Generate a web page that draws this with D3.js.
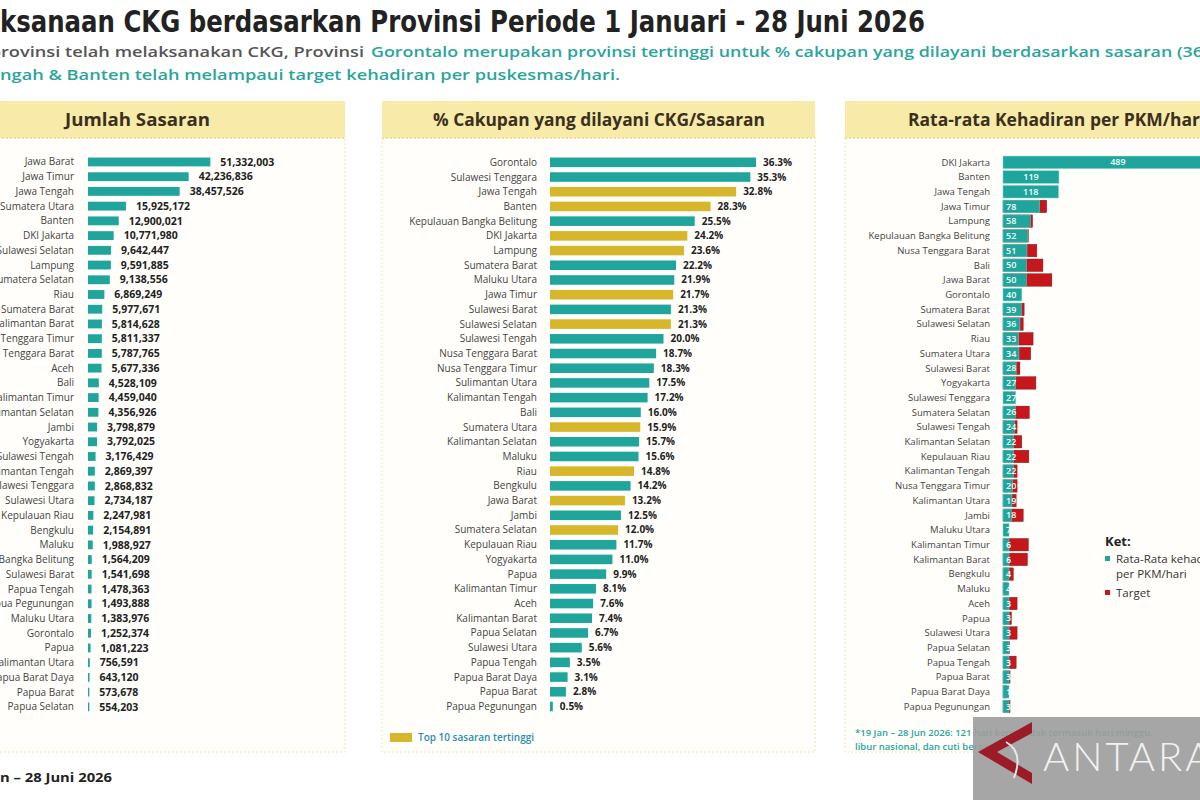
<!DOCTYPE html>
<html><head><meta charset="utf-8">
<script src="https://cdn.jsdelivr.net/npm/d3@7/dist/d3.min.js"></script>
<style>body{margin:0;background:#fff;} svg{display:block;font-family:'Open Sans',sans-serif;}</style>
</head><body><svg id="c" width="1200" height="800"></svg>
<script>
// ---------- DATA ----------
const sasaranProv = ["Jawa Barat","Jawa Timur","Jawa Tengah","Sumatera Utara","Banten","DKI Jakarta","Sulawesi Selatan","Lampung","Sumatera Selatan","Riau","Sumatera Barat","Kalimantan Barat","Nusa Tenggara Timur","Nusa Tenggara Barat","Aceh","Bali","Kalimantan Timur","Kalimantan Selatan","Jambi","Yogyakarta","Sulawesi Tengah","Kalimantan Tengah","Sulawesi Tenggara","Sulawesi Utara","Kepulauan Riau","Bengkulu","Maluku","Kepulauan Bangka Belitung","Sulawesi Barat","Papua Tengah","Papua Pegunungan","Maluku Utara","Gorontalo","Papua","Kalimantan Utara","Papua Barat Daya","Papua Barat","Papua Selatan"];
const sasaranVal = [51332003,42236836,38457526,15925172,12900021,10771980,9642447,9591885,9138556,6869249,5977671,5814628,5811337,5787765,5677336,4528109,4459040,4356926,3798879,3792025,3176429,2869397,2868832,2734187,2247981,2154891,1988927,1564209,1541698,1478363,1493888,1383976,1252374,1081223,756591,643120,573678,554203];

const cakupanProv = ["Gorontalo","Sulawesi Tenggara","Jawa Tengah","Banten","Kepulauan Bangka Belitung","DKI Jakarta","Lampung","Sumatera Barat","Maluku Utara","Jawa Timur","Sulawesi Barat","Sulawesi Selatan","Sulawesi Tengah","Nusa Tenggara Barat","Nusa Tenggara Timur","Sulimantan Utara","Kalimantan Tengah","Bali","Sumatera Utara","Kalimantan Selatan","Maluku","Riau","Bengkulu","Jawa Barat","Jambi","Sumatera Selatan","Kepulauan Riau","Yogyakarta","Papua","Kalimantan Timur","Aceh","Kalimantan Barat","Papua Selatan","Sulawesi Utara","Papua Tengah","Papua Barat Daya","Papua Barat","Papua Pegunungan"];
const cakupanVal = [36.3,35.3,32.8,28.3,25.5,24.2,23.6,22.2,21.9,21.7,21.3,21.3,20.0,18.7,18.3,17.5,17.2,16.0,15.9,15.7,15.6,14.8,14.2,13.2,12.5,12.0,11.7,11.0,9.9,8.1,7.6,7.4,6.7,5.6,3.5,3.1,2.8,0.5];
const top10Sasaran = ["Jawa Tengah","Banten","DKI Jakarta","Lampung","Jawa Timur","Sulawesi Selatan","Sumatera Utara","Riau","Jawa Barat","Sumatera Selatan"];

const hadirProv = ["DKI Jakarta","Banten","Jawa Tengah","Jawa Timur","Lampung","Kepulauan Bangka Belitung","Nusa Tenggara Barat","Bali","Jawa Barat","Gorontalo","Sumatera Barat","Sulawesi Selatan","Riau","Sumatera Utara","Sulawesi Barat","Yogyakarta","Sulawesi Tenggara","Sumatera Selatan","Sulawesi Tengah","Kalimantan Selatan","Kepulauan Riau","Kalimantan Tengah","Nusa Tenggara Timur","Kalimantan Utara","Jambi","Maluku Utara","Kalimantan Timur","Kalimantan Barat","Bengkulu","Maluku","Aceh","Papua","Sulawesi Utara","Papua Selatan","Papua Tengah","Papua Barat","Papua Barat Daya","Papua Pegunungan"];
const hadirVal = [489,119,118,78,58,52,51,50,50,40,39,36,33,34,28,27,27,26,24,22,22,22,20,19,18,7,6,6,4,4,3,3,3,3,3,3,1,3];
const hadirTarget = [null,null,null,93,63,54,72,85,104,null,45,43,64,59,36,70,null,56,30,40,55,30,30,28,43,null,54,52,22,10,30,18,30,14,28,15,8,15];

// ---------- HELPERS ----------
const svg = d3.select("#c");
const TEAL = "#1fa59c", YELLOW = "#d6b62a", RED = "#c8161d";

function fit(sel, pre, vis, x0, x1) {
  const n = sel.node();
  const full = n.getComputedTextLength();
  const p = pre > 0 ? n.getSubStringLength(0, pre) : 0;
  const v = n.getSubStringLength(pre, vis);
  const r = (x1 - x0) / v;
  sel.attr("textLength", full * r).attr("lengthAdjust", "spacingAndGlyphs").attr("x", x0 - p * r);
}
function addText(str, y, size, weight, color, family) {
  return svg.append("text").attr("x", 0).attr("y", y).attr("font-size", size)
    .attr("font-weight", weight).attr("fill", color)
    .attr("font-family", family || "'Open Sans',sans-serif").text(str);
}

// ---------- TITLE ----------
let s = "Pelaksanaan CKG berdasarkan Provinsi Periode 1 Januari - 28 Juni 2026";
fit(addText(s, 32, 30, 700, "#222", "'DejaVu Sans Condensed','Liberation Sans',sans-serif"), 4, s.length - 4, 0, 925);

s = "Seluruh provinsi telah melaksanakan CKG, Provinsi";
fit(addText(s, 57, 15, 600, "#555"), 9, s.length - 9, 1, 364);
s = "Gorontalo merupakan provinsi tertinggi untuk % cakupan yang dilayani berdasarkan sasaran (36,3%).";
fit(addText(s, 57, 15, 600, "#2aa59b"), 0, s.indexOf("(36") + 3, 371, 1203);
s = "Provinsi DKI Jakarta, Jawa Tengah & Banten telah melampaui target kehadiran per puskesmas/hari.";
const pre2 = s.indexOf("ngah &");
fit(addText(s, 80, 15, 600, "#2aa59b"), pre2, s.length - pre2, 0, 620);

// ---------- PANELS ----------
const panels = [[-6, 345], [382, 815], [845, 1210]];
panels.forEach(([a, b]) => {
  svg.append("rect").attr("x", a).attr("y", 138).attr("width", b - a).attr("height", 614)
    .attr("fill", "#fffefa").attr("stroke", "#efe4b0").attr("stroke-dasharray", "2,2");
  svg.append("rect").attr("x", a).attr("y", 101).attr("width", b - a).attr("height", 37)
    .attr("fill", "#f8eaa9");
  svg.append("line").attr("x1", a).attr("x2", b).attr("y1", 138).attr("y2", 138)
    .attr("stroke", "#e2cf72").attr("stroke-dasharray", "2,2");
});
s = "Jumlah Sasaran";
fit(addText(s, 126, 17, 700, "#3a3020"), 0, s.length, 65, 210);
s = "% Cakupan yang dilayani CKG/Sasaran";
fit(addText(s, 126, 17, 700, "#3a3020"), 0, s.length, 433, 765);
s = "Rata-rata Kehadiran per PKM/hari";
fit(addText(s, 126, 17, 700, "#3a3020"), 0, s.length - 1, 908, 1200);

const yRange = [154.6, 714.2];

// ---------- LEFT: Jumlah Sasaran ----------
const yL = d3.scaleBand().domain(sasaranProv).range(yRange).paddingInner(0.4).paddingOuter(0.2);
const xL = d3.scaleLinear().domain([0, 60e6]).range([88, 231]);
const gL = svg.append("g");
gL.selectAll("rect").data(sasaranProv).join("rect")
  .attr("x", xL(0)).attr("y", d => yL(d)).attr("height", yL.bandwidth())
  .attr("width", (d, i) => Math.max(1.2, xL(sasaranVal[i]) - xL(0))).attr("fill", TEAL);
gL.selectAll("text.lab").data(sasaranProv).join("text").attr("class", "lab")
  .attr("x", 74).attr("y", d => yL(d) + yL.bandwidth() / 2).attr("dy", "0.35em")
  .attr("text-anchor", "end").attr("font-size", 10).attr("fill", "#444").text(d => d);
gL.selectAll("text.val").data(sasaranProv).join("text").attr("class", "val")
  .attr("x", (d, i) => xL(sasaranVal[i]) + 10).attr("y", d => yL(d) + yL.bandwidth() / 2).attr("dy", "0.35em")
  .attr("font-size", 10.5).attr("font-weight", 700).attr("fill", "#222").text((d, i) => d3.format(",")(sasaranVal[i]));

// ---------- MIDDLE: % Cakupan ----------
const yM = d3.scaleBand().domain(cakupanProv).range(yRange).paddingInner(0.35).paddingOuter(0.2);
const xM = d3.scaleLinear().domain([0, 40]).range([550, 777]);
const gM = svg.append("g");
gM.selectAll("rect").data(cakupanProv).join("rect")
  .attr("x", xM(0)).attr("y", d => yM(d)).attr("height", yM.bandwidth())
  .attr("width", (d, i) => Math.max(1, xM(cakupanVal[i]) - xM(0)))
  .attr("fill", d => top10Sasaran.includes(d) ? YELLOW : TEAL);
gM.selectAll("text.lab").data(cakupanProv).join("text").attr("class", "lab")
  .attr("x", 537).attr("y", d => yM(d) + yM.bandwidth() / 2).attr("dy", "0.35em")
  .attr("text-anchor", "end").attr("font-size", 10).attr("fill", "#444").text(d => d);
gM.selectAll("text.val").data(cakupanProv).join("text").attr("class", "val")
  .attr("x", (d, i) => xM(cakupanVal[i]) + 7).attr("y", d => yM(d) + yM.bandwidth() / 2).attr("dy", "0.35em")
  .attr("font-size", 10).attr("font-weight", 700).attr("fill", "#222").text((d, i) => d3.format(".1f")(cakupanVal[i]) + "%");
svg.append("rect").attr("x", 390).attr("y", 733).attr("width", 22).attr("height", 9).attr("fill", YELLOW);
svg.append("text").attr("x", 418).attr("y", 741).attr("font-size", 10).attr("font-weight", 600)
  .attr("fill", "#2a8fae").text("Top 10 sasaran tertinggi");

// ---------- RIGHT: Kehadiran ----------
const yR = d3.scaleBand().domain(hadirProv).range(yRange).paddingInner(0.15).paddingOuter(0.1);
const xR = d3.scaleLinear().domain([0, 100]).range([1003, 1050]);
const gR = svg.append("g");
gR.selectAll("rect.tgt").data(hadirProv).join("rect").attr("class", "tgt")
  .attr("x", xR(0)).attr("y", d => yR(d)).attr("height", yR.bandwidth())
  .attr("width", (d, i) => hadirTarget[i] == null ? 0 : xR(hadirTarget[i]) - xR(0))
  .attr("fill", RED).attr("stroke", "#6a1a1a").attr("stroke-width", 0.4);
gR.selectAll("rect.act").data(hadirProv).join("rect").attr("class", "act")
  .attr("x", xR(0)).attr("y", d => yR(d)).attr("height", yR.bandwidth())
  .attr("width", (d, i) => Math.max(6, xR(hadirVal[i]) - xR(0)))
  .attr("fill", TEAL).attr("stroke", "#6fd3cb").attr("stroke-width", 0.5);
gR.selectAll("text.lab").data(hadirProv).join("text").attr("class", "lab")
  .attr("x", 990).attr("y", d => yR(d) + yR.bandwidth() / 2).attr("dy", "0.35em")
  .attr("text-anchor", "end").attr("font-size", 9.5).attr("fill", "#444").text(d => d);
gR.selectAll("text.val").data(hadirProv).join("text").attr("class", "val")
  .attr("x", (d, i) => { const w = xR(hadirVal[i]) - xR(0); return w > 45 ? xR(0) + Math.min(w, 230) / 2 : xR(0) + 3; })
  .attr("text-anchor", (d, i) => (xR(hadirVal[i]) - xR(0)) > 45 ? "middle" : "start")
  .attr("y", d => yR(d) + yR.bandwidth() / 2).attr("dy", "0.35em")
  .attr("font-size", 9).attr("font-weight", 600).attr("fill", "#f4fffd").text((d, i) => hadirVal[i]);

svg.append("text").attr("x", 1105).attr("y", 546).attr("font-size", 13).attr("font-weight", 700).attr("fill", "#222").text("Ket:");
svg.append("rect").attr("x", 1105).attr("y", 556).attr("width", 5).attr("height", 5).attr("fill", TEAL);
svg.append("text").attr("x", 1116).attr("y", 563).attr("font-size", 11.5).attr("fill", "#333").text("Rata-Rata kehadiran");
svg.append("text").attr("x", 1116).attr("y", 578).attr("font-size", 11.5).attr("fill", "#333").text("per PKM/hari");
svg.append("rect").attr("x", 1105).attr("y", 590).attr("width", 5).attr("height", 5).attr("fill", RED);
svg.append("text").attr("x", 1116).attr("y", 597).attr("font-size", 11.5).attr("fill", "#333").text("Target");

svg.append("text").attr("x", 855).attr("y", 736).attr("font-size", 9.5).attr("font-weight", 600).attr("fill", "#2aa59b")
  .text("*19 Jan – 28 Jun 2026: 121 hari kerja, tidak termasuk hari minggu,");
svg.append("text").attr("x", 855).attr("y", 750).attr("font-size", 9.5).attr("font-weight", 600).attr("fill", "#2aa59b")
  .text("libur nasional, dan cuti bersama");

// ---------- FOOTER ----------
s = "Periode 1 Jan – 28 Juni 2026";
const pf = s.indexOf("n –");
fit(addText(s, 782, 13, 700, "#222"), pf, s.length - pf, 0, 112);

// ---------- WATERMARK ----------
svg.append("rect").attr("x", 973).attr("y", 717).attr("width", 227).attr("height", 83).attr("fill", "#9c9c9c").attr("opacity", 0.9);
svg.append("path").attr("d", "M1032,722 L978,752 L1032,784 L1032,773 L997,752 L1032,733 Z").attr("fill", "#9c1b26");
svg.append("path").attr("d", "M1006,742 Q1024,752 1014,778").attr("fill", "none").attr("stroke", "#e8e8e8").attr("stroke-width", 2);
svg.append("text").attr("x", 1043).attr("y", 771).attr("font-size", 40).attr("font-weight", 300)
  .attr("font-family", "'Lato','Open Sans',sans-serif").attr("letter-spacing", 3).attr("fill", "#f2f2f2").text("ANTARA");
</script></body></html>
